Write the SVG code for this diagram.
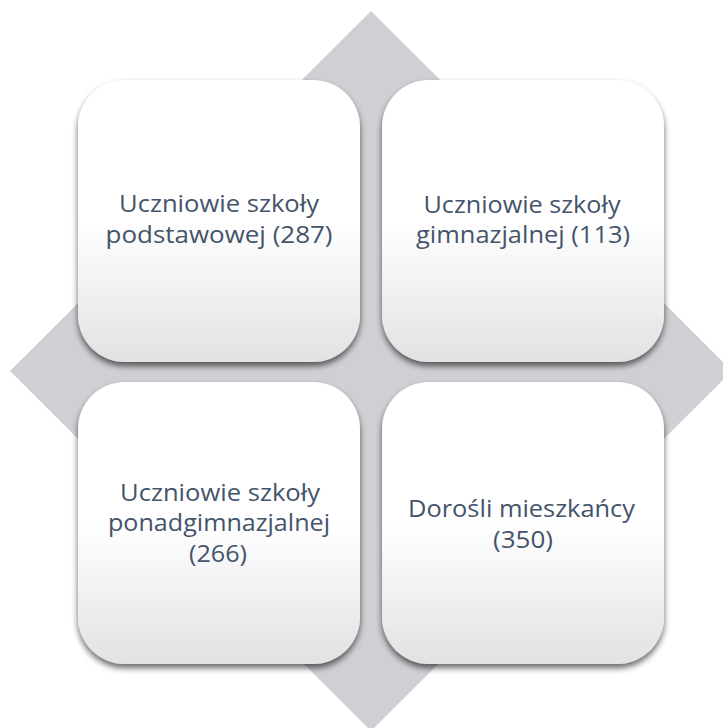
<svg xmlns="http://www.w3.org/2000/svg" width="723" height="728" viewBox="0 0 723 728">
<defs>
<linearGradient id="fillGrad" x1="0" y1="0" x2="0" y2="1">
<stop offset="0" stop-color="#FFFFFF"/>
<stop offset="0.5" stop-color="#FFFFFF"/>
<stop offset="1" stop-color="#E2E2E3"/>
</linearGradient>
<filter id="shadow" x="-10%" y="-10%" width="120%" height="125%">
<feGaussianBlur in="SourceAlpha" stdDeviation="3"/>
<feOffset dx="0" dy="4" result="b"/>
<feComponentTransfer><feFuncA type="linear" slope="0.6"/></feComponentTransfer>
<feMerge><feMergeNode/><feMergeNode in="SourceGraphic"/></feMerge>
</filter>
</defs>
<style>
.box{fill:url(#fillGrad);filter:url(#shadow);}
.lbl{font-family:"Open Sans","Noto Sans","DejaVu Sans",sans-serif;font-size:24px;fill:#44546A;text-anchor:middle;}
</style>
<rect width="723" height="728" fill="#FFFFFF"/>
<g id="background-diamond">
<polygon points="371,11 732,371 371,731 10,371" fill="#CED0D4"/>
</g>
<g id="connectors"></g>
<g id="node-podstawowa">
<rect class="box" x="78" y="80" width="282" height="282" rx="47" ry="47"/>
<text class="lbl" x="219" y="212" textLength="200" lengthAdjust="spacingAndGlyphs">Uczniowie szkoły</text>
<text class="lbl" x="219" y="242.5" textLength="227" lengthAdjust="spacingAndGlyphs">podstawowej (287)</text>
</g>
<g id="node-gimnazjalna">
<rect class="box" x="382" y="80" width="282" height="282" rx="47" ry="47"/>
<text class="lbl" x="522" y="212.5" textLength="197" lengthAdjust="spacingAndGlyphs">Uczniowie szkoły</text>
<text class="lbl" x="523" y="243" textLength="214" lengthAdjust="spacingAndGlyphs">gimnazjalnej (113)</text>
</g>
<g id="node-ponadgimnazjalna">
<rect class="box" x="78" y="382" width="282" height="282" rx="47" ry="47"/>
<text class="lbl" x="220" y="500.5" textLength="200" lengthAdjust="spacingAndGlyphs">Uczniowie szkoły</text>
<text class="lbl" x="219" y="531" textLength="222" lengthAdjust="spacingAndGlyphs">ponadgimnazjalnej</text>
<text class="lbl" x="218" y="561.5" textLength="58" lengthAdjust="spacingAndGlyphs">(266)</text>
</g>
<g id="node-dorosli">
<rect class="box" x="382" y="382" width="282" height="282" rx="47" ry="47"/>
<text class="lbl" x="521.5" y="516.5" textLength="227" lengthAdjust="spacingAndGlyphs">Dorośli mieszkańcy</text>
<text class="lbl" x="523" y="547.5" textLength="60" lengthAdjust="spacingAndGlyphs">(350)</text>
</g>
</svg>
